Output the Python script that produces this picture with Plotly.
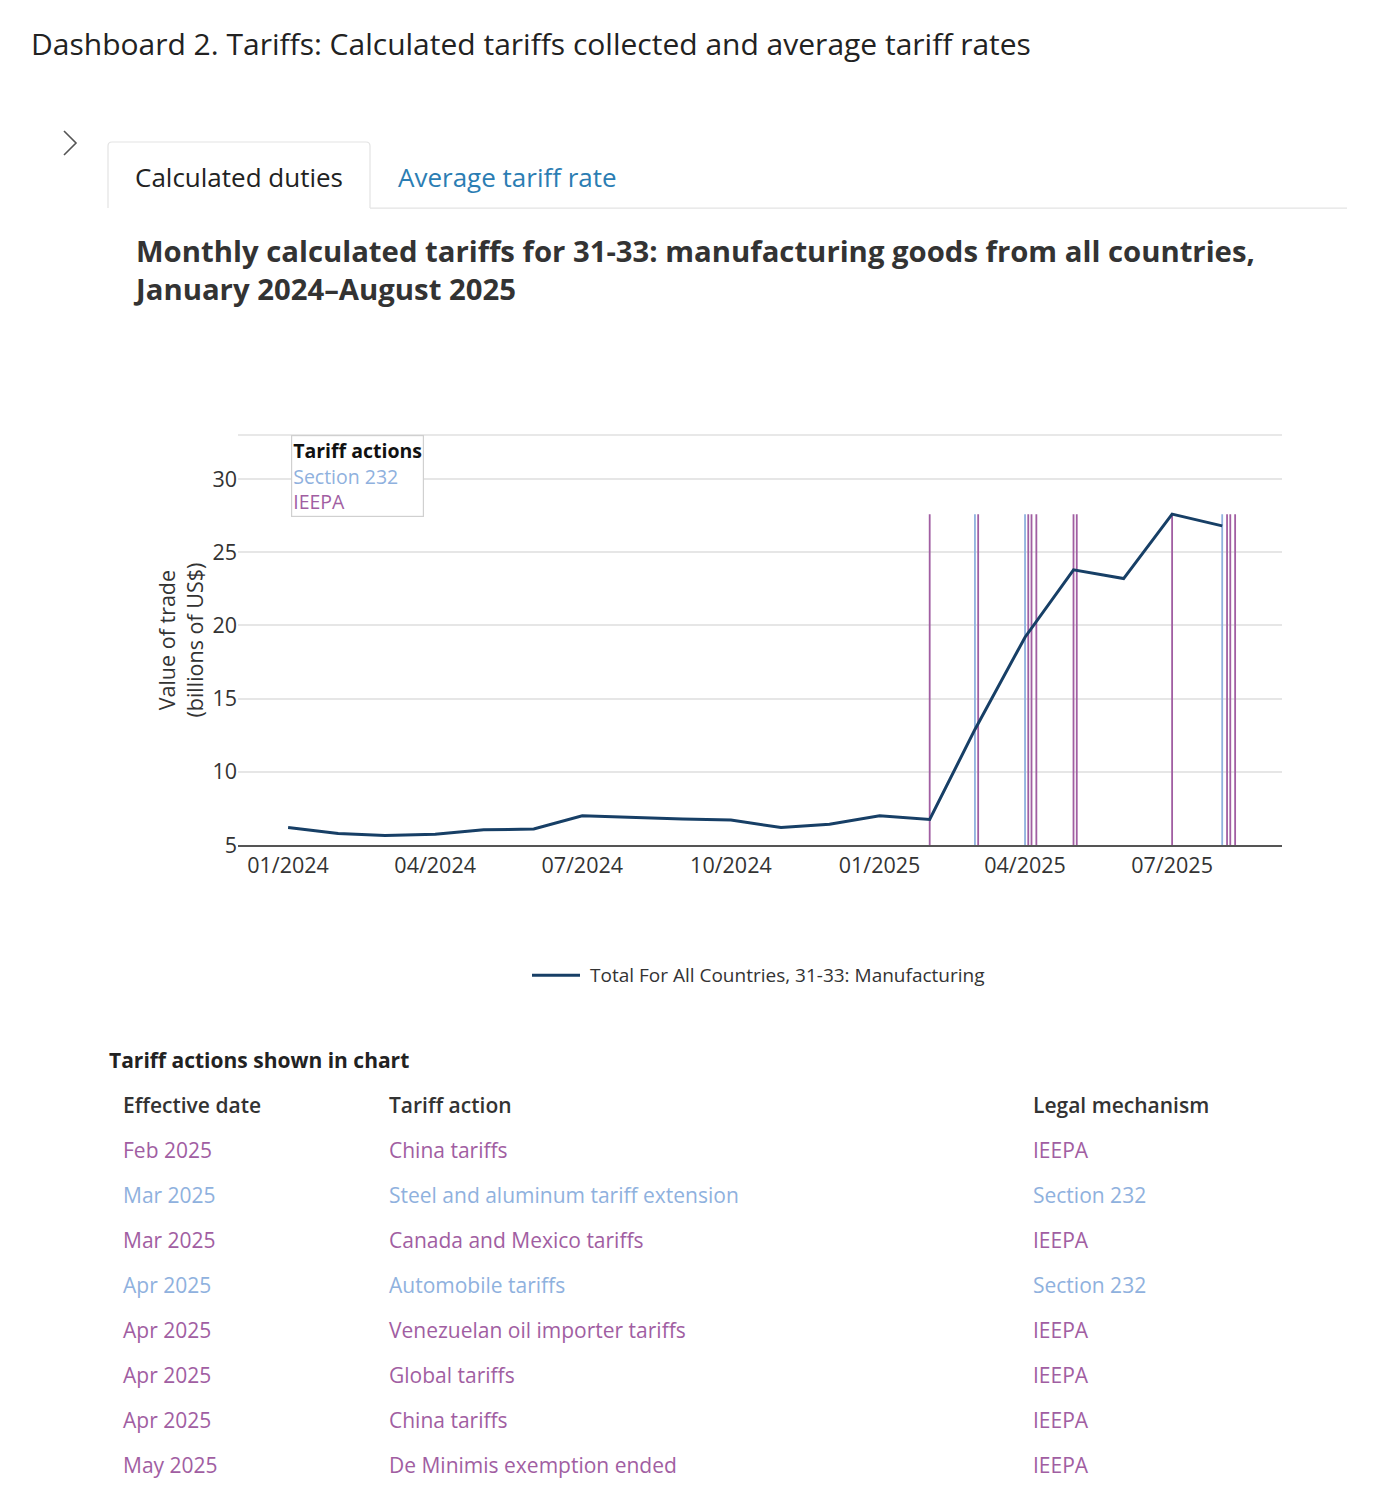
import plotly.graph_objects as go

W, H = 1375, 1500
K = 0.9905  # vertical compensation of the page capture


def px(x):
    return x / W


def py(y):
    return 1 - (y / K) / H


# ---------------- data ----------------
months = ["2024-01-01", "2024-02-01", "2024-03-01", "2024-04-01", "2024-05-01", "2024-06-01",
          "2024-07-01", "2024-08-01", "2024-09-01", "2024-10-01", "2024-11-01", "2024-12-01",
          "2025-01-01", "2025-02-01", "2025-03-01", "2025-04-01", "2025-05-01", "2025-06-01",
          "2025-07-01", "2025-08-01"]
duties = [6.2, 5.8, 5.65, 5.75, 6.05, 6.1, 7.0, 6.87, 6.78, 6.72, 6.2, 6.42,
          7.0, 6.75, 12.9, 19.2, 23.8, 23.2, 27.6, 26.8]
series_name = "Total For All Countries, 31-33: Manufacturing"

action_dates = ["2025-02-01", "2025-03-01", "2025-03-03", "2025-04-01", "2025-04-03",
                "2025-04-05", "2025-04-08", "2025-05-01", "2025-05-03", "2025-07-01",
                "2025-08-01", "2025-08-04", "2025-08-06", "2025-08-09"]
action_mechs = ["IEEPA", "Section 232", "IEEPA", "Section 232", "IEEPA",
                "IEEPA", "IEEPA", "IEEPA", "IEEPA", "IEEPA",
                "Section 232", "IEEPA", "IEEPA", "IEEPA"]

table_dates = ["Feb 2025", "Mar 2025", "Mar 2025", "Apr 2025", "Apr 2025", "Apr 2025", "Apr 2025", "May 2025"]
table_actions = ["China tariffs", "Steel and aluminum tariff extension", "Canada and Mexico tariffs",
                 "Automobile tariffs", "Venezuelan oil importer tariffs", "Global tariffs",
                 "China tariffs", "De Minimis exemption ended"]
table_mechs = ["IEEPA", "Section 232", "IEEPA", "Section 232", "IEEPA", "IEEPA", "IEEPA", "IEEPA"]

mech_colors = {"IEEPA": "#a15ea2", "Section 232": "#8fb1de"}
LINE_COLOR = "#173f66"
FONT = "Open Sans"

fig = go.Figure()

ymin = 5
ytop = max(duties)
for d, m in zip(action_dates, action_mechs):
    fig.add_trace(go.Scatter(x=[d, d], y=[ymin, ytop], mode="lines",
                             line=dict(color=mech_colors[m], width=1.8),
                             showlegend=False, hoverinfo="skip"))

fig.add_trace(go.Scatter(x=months, y=duties, mode="lines", name=series_name,
                         line=dict(color=LINE_COLOR, width=3), showlegend=False))

fig.update_layout(
    width=W, height=H,
    margin=dict(l=0, r=0, t=0, b=0),
    paper_bgcolor="white", plot_bgcolor="white",
    font=dict(family=FONT, color="#333333", size=19),
    xaxis=dict(domain=[px(238), px(1282)], type="date",
               range=["2023-12-01", "2025-09-07"],
               tickformat="%m/%Y", dtick="M3", tick0="2024-01-01",
               showgrid=False, showline=True, linecolor="#555555", linewidth=1.5,
               ticks="", tickfont=dict(size=21.5, color="#333333"), ticklabelstandoff=0),
    yaxis=dict(domain=[py(845), py(435)], range=[5, 33], dtick=5, tick0=5,
               showgrid=True, gridcolor="#e6e6e6", gridwidth=1.5, zeroline=False,
               showline=False, ticks="", tickfont=dict(size=21.5, color="#333333"),
               title=dict(text="Value of trade<br>(billions of US$)", font=dict(size=21.5, color="#333333"),
                          standoff=2)),
    showlegend=False,
)

shapes = []
# top line of plot area
shapes.append(dict(type="line", xref="paper", yref="paper", x0=px(238), x1=px(1282),
                   y0=py(435), y1=py(435), line=dict(color="#e0e0e0", width=1.5)))
# chevron
shapes.append(dict(type="path", xref="paper", yref="paper",
                   path=f"M {px(64)} {py(131)} L {px(76)} {py(143)} L {px(64)} {py(155)}",
                   line=dict(color="#555555", width=1.6)))
# tab outline
shapes.append(dict(type="path", xref="paper", yref="paper",
                   path=f"M {px(108)} {py(208)} L {px(108)} {py(146)} Q {px(108)} {py(142)} {px(112)} {py(142)} "
                        f"L {px(366)} {py(142)} Q {px(370)} {py(142)} {px(370)} {py(146)} L {px(370)} {py(208)}",
                   line=dict(color="#e3e3e3", width=1.2)))
shapes.append(dict(type="line", xref="paper", yref="paper", x0=px(370), x1=px(1347),
                   y0=py(208), y1=py(208), line=dict(color="#e3e3e3", width=1.2)))
# series legend key
shapes.append(dict(type="line", xref="paper", yref="paper", x0=px(532), x1=px(580),
                   y0=py(975), y1=py(975), line=dict(color=LINE_COLOR, width=3)))
fig.update_layout(shapes=shapes)

ann = []


def text(x, y, s, size, color="#222222", weight="normal", xanchor="left", yanchor="middle", align="left"):
    ann.append(dict(x=px(x), y=py(y), xref="paper", yref="paper", text=s, showarrow=False,
                    xanchor=xanchor, yanchor=yanchor, align=align,
                    font=dict(family=FONT, size=size, color=color, weight=weight)))


text(29, 43, "Dashboard 2. Tariffs: Calculated tariffs collected and average tariff rates", 30, "#222222")
text(239, 177, "Calculated duties", 26, "#222222", xanchor="center")
text(396, 177, "Average tariff rate", 26, "#2b7db3")
text(131, 269.5, "Monthly calculated tariffs for 31-33: manufacturing goods from all countries,<br>"
                 "January 2024\u2013August 2025", 29.3, "#333333", weight="bold")

# tariff actions legend box
ann.append(dict(x=px(291), y=py(435), xref="paper", yref="paper", showarrow=False,
                xanchor="left", yanchor="top", align="left",
                text=(f"<b>Tariff actions</b><br><span style='color:{mech_colors['Section 232']}'>Section 232</span>"
                      f"<br><span style='color:{mech_colors['IEEPA']}'>IEEPA</span>"),
                font=dict(family=FONT, size=19.5, color="#111111"),
                bordercolor="#d0d0d0", borderwidth=1.2, borderpad=1, bgcolor="white"))

# series legend label
text(588, 975, series_name, 19, "#333333")

# table
text(107, 1060, "Tariff actions shown in chart", 21, "#222222", weight="bold")
text(121, 1105, "Effective date", 21, "#333333", weight=600)
text(387, 1105, "Tariff action", 21, "#333333", weight=600)
text(1031, 1105, "Legal mechanism", 21, "#333333", weight=600)
for i, (d, a, m) in enumerate(zip(table_dates, table_actions, table_mechs)):
    yy = 1150 + i * 45
    c = mech_colors[m]
    text(121, yy, d, 21, c)
    text(387, yy, a, 21, c)
    text(1031, yy, m, 21, c)

fig.update_layout(annotations=ann)

fig.write_html(
    "out.html",
    config={"displayModeBar": False},
    post_script=("document.documentElement.style.margin='0px';"
                 "document.documentElement.style.overflow='hidden';"
                 "document.body.style.margin='0px';document.body.style.padding='0px';"
                 "document.body.style.overflow='hidden';"),
)
